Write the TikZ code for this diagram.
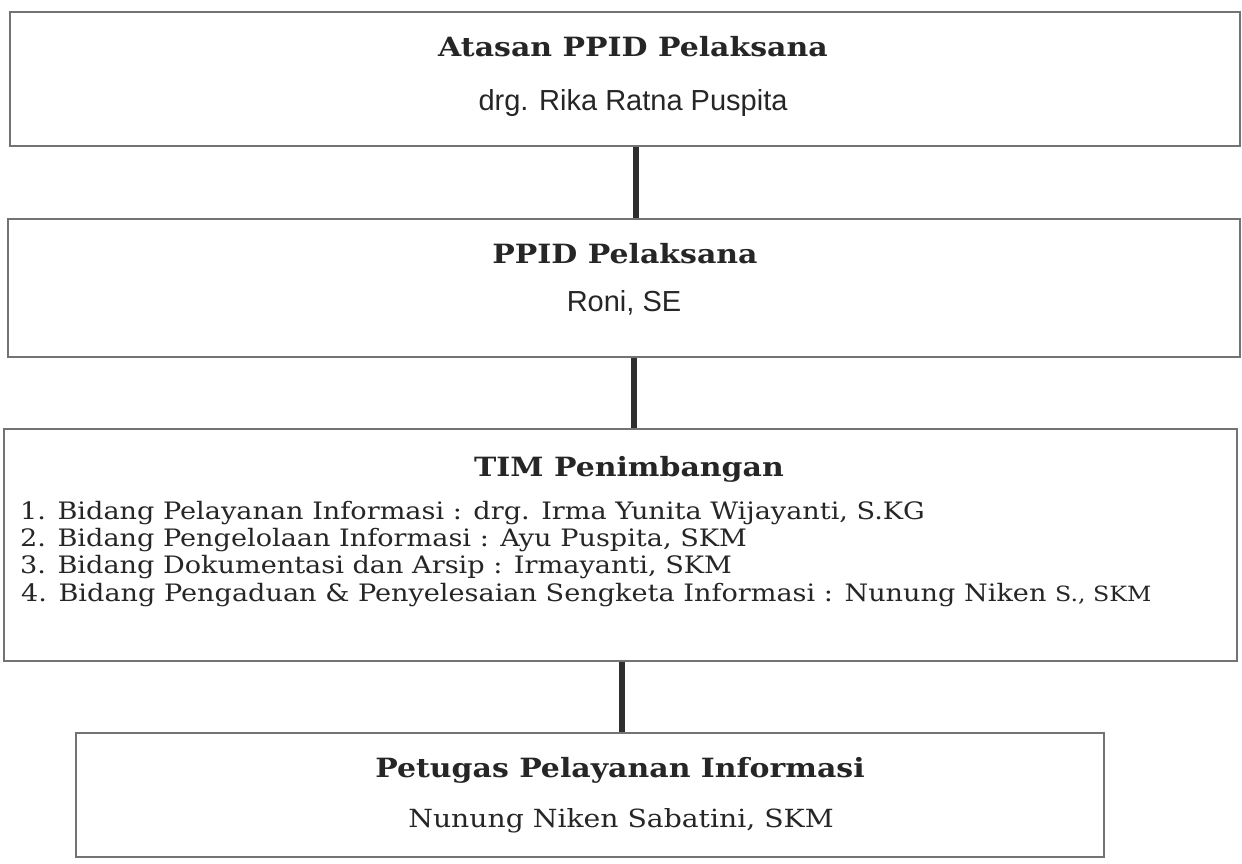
\documentclass[tikz,border=0pt]{standalone}
\usepackage{fontspec}
\newfontfamily\arialf{Liberation Sans}
\newfontfamily\bkf{DejaVu Serif}[FakeStretch=1.13]
\begin{document}
\begin{tikzpicture}[x=1pt,y=-1pt,
  box/.style={draw=black!55, line width=1.1pt, inner sep=0pt},
  conn/.style={draw=black!82, line width=6pt},
  ttl/.style={anchor=base, text=black!85, font=\bkf\bfseries\fontsize{26.5}{30}\selectfont},
  sub/.style={anchor=base, text=black!85, font=\arialf\fontsize{29}{33}\selectfont},
  subbk/.style={anchor=base, text=black!85, font=\bkf\fontsize{25}{30}\selectfont},
  item/.style={anchor=base west, text=black!85, font=\bkf\fontsize{24}{28}\selectfont, inner sep=0pt}]
\useasboundingbox (0,0) rectangle (1242,863);
\fill[white] (0,0) rectangle (1242,863);
% boxes
\node[box, minimum width=1230pt, minimum height=134pt] (b1) at (625,79) {};
\node[box, minimum width=1232pt, minimum height=138pt] (b2) at (624,288) {};
\node[box, minimum width=1233pt, minimum height=232pt] (b3) at (620.5,545) {};
\node[box, minimum width=1028pt, minimum height=124pt] (b4) at (590,795) {};
% connectors
\coordinate (k1) at (636,0);
\coordinate (k2) at (634,0);
\coordinate (k3) at (622,0);
\draw[conn] (k1 |- b1.south) -- (k1 |- b2.north);
\draw[conn] (k2 |- b2.south) -- (k2 |- b3.north);
\draw[conn] (k3 |- b3.south) -- (k3 |- b4.north);
% texts
\node[ttl] (t1) at (633,56) {Atasan PPID Pelaksana};
\node[sub] (s1) at (633,110) {drg. Rika Ratna Puspita};
\node[ttl] (t2) at (625,263) {PPID Pelaksana};
\node[sub] (s2) at (624,311) {Roni, SE};
\node[ttl] (t3) at (629,476) {TIM Penimbangan};
\node[item] (l1) at (20,519) {1. Bidang Pelayanan Informasi : drg. Irma Yunita Wijayanti, S.KG};
\node[item] (l2) at (20,546) {2. Bidang Pengelolaan Informasi : Ayu Puspita, SKM};
\node[item] (l3) at (20,573) {3. Bidang Dokumentasi dan Arsip : Irmayanti, SKM};
\node[item] (l4) at (21,601) {4. Bidang Pengaduan \& Penyelesaian Sengketa Informasi : Nunung Niken {\fontsize{21}{24}\selectfont S., SKM}};
\node[ttl] (t4) at (620,777) {Petugas Pelayanan Informasi};
\node[subbk] (s4) at (621,827) {Nunung Niken Sabatini, SKM};
\end{tikzpicture}
\end{document}
